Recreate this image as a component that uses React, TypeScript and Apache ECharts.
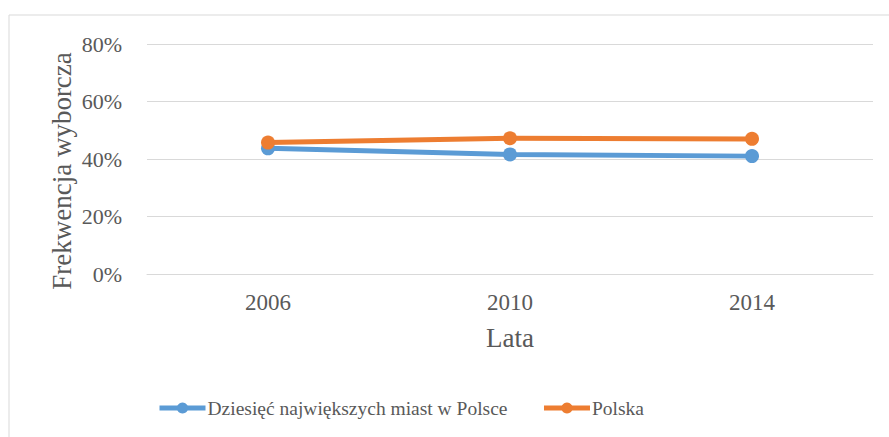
import React, { useEffect, useRef } from "react";
import * as echarts from "echarts";

const years = ["2006", "2010", "2014"];
const cities = [0.437, 0.416, 0.41];
const poland = [0.457, 0.472, 0.47];
const seriesNames = ["Dziesięć największych miast w Polsce", "Polska"];

export default function App() {
  const ref = useRef<HTMLDivElement>(null);
  useEffect(() => {
    const chart = echarts.init(ref.current!, null, { renderer: "svg" });
    const font = "'Liberation Serif', 'Times New Roman', serif";
    const txt = "#595959";
    chart.setOption({
      animation: false,
      textStyle: { fontFamily: font },
      graphic: [
        {
          type: "polyline",
          shape: { points: [[9, 437], [9, 15], [889, 15]] },
          style: { stroke: "#d9d9d9", lineWidth: 1, fill: null },
          silent: true,
        },
      ],
      grid: { left: 147, right: 16, top: 44, bottom: 163 },
      xAxis: {
        type: "category",
        data: years,
        boundaryGap: true,
        name: "Lata",
        nameLocation: "middle",
        nameGap: 50,
        nameMoveOverlap: false,
        nameTextStyle: { color: txt, fontSize: 27, fontFamily: font },
        axisLine: { show: true, lineStyle: { color: "#d9d9d9", width: 1 } },
        axisTick: { show: false },
        axisLabel: { color: txt, fontSize: 23, fontFamily: font, margin: 17 },
      },
      yAxis: {
        type: "value",
        min: 0,
        max: 0.8,
        interval: 0.2,
        name: "Frekwencja wyborcza",
        nameLocation: "middle",
        nameGap: 72,
        nameMoveOverlap: false,
        nameTextStyle: { color: txt, fontSize: 27, fontFamily: font, padding: [0, 24, 0, 0] },
        axisLine: { show: false },
        axisTick: { show: false },
        splitLine: { lineStyle: { color: "#d9d9d9", width: 1 } },
        axisLabel: {
          color: txt,
          fontSize: 22,
          fontFamily: font,
          margin: 25,
          formatter: (v: number) => Math.round(v * 100) + "%",
        },
      },
      legend: {
        bottom: 14,
        left: 152,
        itemWidth: 46,
        itemHeight: 14,
        itemGap: 34,
        lineStyle: { width: 5 },
        textStyle: { color: txt, fontSize: 19.5, fontFamily: font, padding: [0, 0, 0, -3] },
        data: seriesNames,
      },
      series: [
        {
          name: seriesNames[0],
          type: "line",
          data: cities,
          symbol: "circle",
          symbolSize: 14,
          lineStyle: { width: 5, color: "#5B9BD5" },
          itemStyle: { color: "#5B9BD5" },
        },
        {
          name: seriesNames[1],
          type: "line",
          data: poland,
          symbol: "circle",
          symbolSize: 14,
          lineStyle: { width: 5, color: "#ED7D31" },
          itemStyle: { color: "#ED7D31" },
        },
      ],
    });
    return () => chart.dispose();
  }, []);
  return (
    <div
      ref={ref}
      style={{ position: "fixed", left: 0, top: 0, width: 889, height: 437, background: "#fff" }}
    />
  );
}
